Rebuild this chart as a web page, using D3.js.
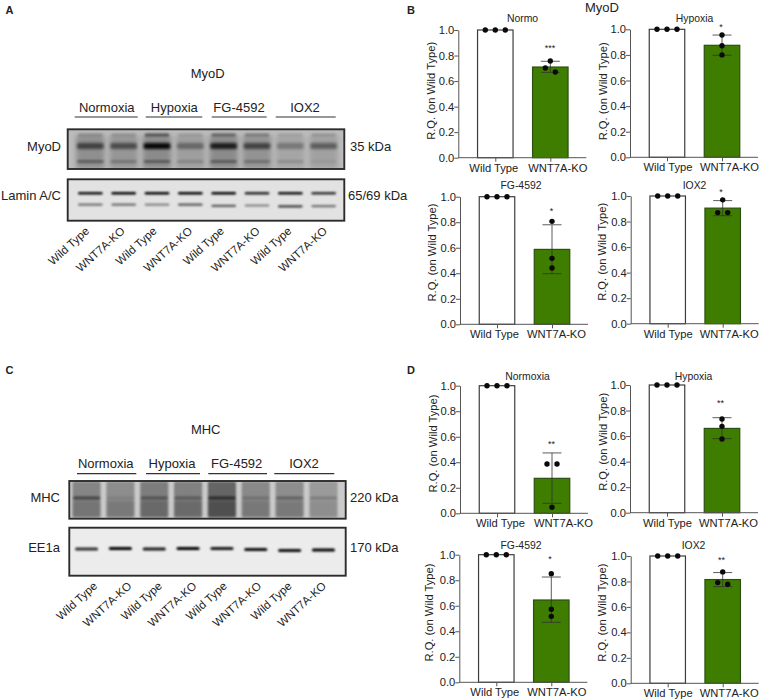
<!DOCTYPE html>
<html><head><meta charset="utf-8">
<script src="https://cdn.jsdelivr.net/npm/d3@7/dist/d3.min.js"></script>
<style>html,body{margin:0;background:#fff}svg{display:block}text{font-family:"Liberation Sans",Arial,sans-serif;fill:#222}</style>
</head><body><svg id="fig" width="760" height="700"></svg>
<script>
// ---------- data ----------
const categories = ["Wild Type", "WNT7A-KO"];
const yTicks = [0, 0.2, 0.4, 0.6, 0.8, 1.0];
const wtPoints = [1, 1, 1];
const panelTitles = ["Normo", "Hypoxia", "FG-4592", "IOX2", "Normoxia", "Hypoxia", "FG-4592", "IOX2"];
const koMeans = [0.71, 0.875, 0.587, 0.905, 0.274, 0.66, 0.645, 0.815];
const koErrLow = [0.668, 0.797, 0.397, 0.846, 0.078, 0.58, 0.47, 0.76];
const koErrHigh = [0.755, 0.955, 0.78, 0.964, 0.473, 0.744, 0.825, 0.87];
const koPoints = [
  [0.757, 0.702, 0.671], [0.955, 0.872, 0.80], [0.807, 0.517, 0.441], [0.97, 0.87, 0.87],
  [0.386, 0.386, 0.047], [0.734, 0.676, 0.577], [0.851, 0.572, 0.517], [0.875, 0.791, 0.778]
];
const significance = ["***", "*", "*", "*", "**", "**", "*", "**"];
const treatments = ["Normoxia", "Hypoxia", "FG-4592", "IOX2"];
const laneNames = ["Wild Type", "WNT7A-KO", "Wild Type", "WNT7A-KO", "Wild Type", "WNT7A-KO", "Wild Type", "WNT7A-KO"];
// blot band densities per lane (0 = none, 1 = black)
const myodLane = [0.24, 0.20, 0.26, 0.16, 0.26, 0.22, 0.12, 0.14];
const myodTop = [0.18, 0.16, 0.50, 0.12, 0.40, 0.28, 0.10, 0.16];
const myodMain = [0.55, 0.50, 0.95, 0.35, 0.80, 0.55, 0.28, 0.42];
const myodLow = [0.35, 0.22, 0.35, 0.16, 0.35, 0.24, 0.14, 0.06];
const laminTop = [0.95, 1.00, 1.00, 1.00, 1.00, 0.85, 0.95, 0.80];
const laminLow = [0.50, 0.52, 0.42, 0.62, 0.60, 0.45, 0.75, 0.50];
const laminDrift = [0, 0, 0, 0, 1.2, 0.8, 1.6, 1.4];
const mhcLane = [0.34, 0.30, 0.38, 0.36, 0.50, 0.32, 0.30, 0.24];
const mhcBand = [0.50, 0.10, 0.36, 0.32, 0.60, 0.20, 0.32, 0.20];
const mhcFoot = [0.12, 0.14, 0.16, 0.18, 0.22, 0.12, 0.14, 0.08];
const ee1aBand = [0.80, 1.00, 0.90, 1.00, 0.90, 0.95, 0.95, 1.00];
const ee1aDrift = [0, -0.5, 0, -0.5, -0.5, 0.5, 1.5, 1];

// ---------- helpers ----------
const svg = d3.select("#fig");
const defs = svg.append("defs");
[["blur1", 0.95], ["blur2", 1.6], ["blur3", 2.4]].forEach(([id, s]) =>
  defs.append("filter").attr("id", id).attr("x", "-20%").attr("y", "-60%").attr("width", "140%").attr("height", "220%")
    .append("feGaussianBlur").attr("stdDeviation", s));

function barPanel(i, ox, yTop, yBottom, labelX, labelShift, titleX, titleY, starX, starY, wtShift, koShift) {
  const g = svg.append("g");
  const x = d3.scalePoint().domain(categories).range([ox + 37, ox + 92]);
  const y = d3.scaleLinear().domain([0, 1]).range([yBottom, yTop]);
  const barW = 35.5;
  const bars = [
    { c: categories[0], v: 1, fill: "#fff", line: "#3c3c3c" },
    { c: categories[1], v: koMeans[i], fill: "#3e7d00", line: "#2c4f12" }
  ];
  g.selectAll("rect").data(bars).join("rect")
    .attr("x", d => x(d.c) - barW / 2).attr("width", barW)
    .attr("y", d => y(d.v)).attr("height", d => y(0) - y(d.v))
    .attr("fill", d => d.fill).attr("stroke", d => d.line).attr("stroke-width", 1.2);

  const ax = d3.axisLeft(y).tickValues(yTicks).tickFormat(d3.format(".1f")).tickSize(4).tickSizeOuter(0).tickPadding(0);
  const ya = g.append("g").attr("transform", `translate(${ox},0)`).call(ax);
  const xa = g.append("g").attr("transform", `translate(0,${yBottom})`)
    .call(d3.axisBottom(x).tickSize(4).tickSizeOuter(0).tickPadding(2));
  xa.select(".domain").attr("d", `M${ox},0H${ox + 128}`);
  [ya, xa].forEach(a => {
    a.selectAll("path,line").attr("stroke", "#555").attr("stroke-width", 1);
    a.selectAll("text").attr("font-size", 11.2).attr("fill", "#222");
  });
  xa.selectAll("text").attr("dx", (d, k) => (k ? koShift : wtShift));
  g.append("text").attr("transform", `translate(${labelX},${(yTop + yBottom) / 2 + labelShift}) rotate(-90)`)
    .attr("text-anchor", "middle").attr("font-size", 11.2).text("R.Q. (on Wild Type)");
  g.append("text").attr("x", titleX).attr("y", titleY).attr("text-anchor", "middle")
    .attr("font-size", 10.4).text(panelTitles[i]);
  g.append("text").attr("x", starX).attr("y", starY).attr("text-anchor", "middle")
    .attr("font-size", 9).text(significance[i]);

  // error bar
  const cx = x(categories[1]);
  const errPaths = [
    [[cx, y(koErrLow[i])], [cx, y(koErrHigh[i])]],
    [[cx - 9.5, y(koErrLow[i])], [cx + 9.5, y(koErrLow[i])]],
    [[cx - 9.5, y(koErrHigh[i])], [cx + 9.5, y(koErrHigh[i])]]
  ];
  g.selectAll("path.err").data(errPaths).join("path").attr("class", "err")
    .attr("d", d3.line()).attr("stroke", "#333").attr("stroke-width", 0.8).attr("fill", "none");

  // points: values too close to read apart are spread sideways
  const dots = [];
  [[categories[0], wtPoints], [categories[1], koPoints[i]]].forEach(([c, vals]) => {
    let group = [];
    const flush = () => {
      group.forEach((v, k) => dots.push({ c, v, dx: (k - (group.length - 1) / 2) * 10 }));
      group = [];
    };
    vals.slice().sort(d3.descending).forEach(v => {
      if (group.length && Math.abs(y(group[group.length - 1]) - y(v)) >= 6) flush();
      group.push(v);
    });
    flush();
  });
  g.selectAll("circle").data(dots).join("circle")
    .attr("cx", d => x(d.c) + d.dx).attr("cy", d => y(d.v)).attr("r", 2.7).attr("fill", "#0a0a0a");
}

function blot(x0, x1, y0, y1, lanesRange, bg, build) {
  const g = svg.append("g");
  const id = "clip" + Math.round(x0) + Math.round(y0);
  defs.append("clipPath").attr("id", id).append("rect").attr("x", x0).attr("y", y0).attr("width", x1 - x0).attr("height", y1 - y0);
  const inner = g.append("g").attr("clip-path", `url(#${id})`);
  inner.append("rect").attr("x", x0).attr("y", y0).attr("width", x1 - x0).attr("height", y1 - y0).attr("fill", bg);
  const lane = d3.scaleBand().domain(d3.range(8)).range(lanesRange).paddingInner(0.14);
  build(inner, lane);
  g.append("rect").attr("x", x0).attr("y", y0).attr("width", x1 - x0).attr("height", y1 - y0)
    .attr("fill", "none").attr("stroke", "#2c2c2c").attr("stroke-width", 1.9);
}
function bands(g, lane, vals, yPos, h, blur, shrink, drift) {
  g.append("g").attr("filter", `url(#${blur})`).selectAll("rect").data(vals).join("rect")
    .attr("x", (d, i) => lane(i) + shrink).attr("width", lane.bandwidth() - 2 * shrink)
    .attr("y", (d, i) => yPos - h / 2 + (drift ? drift[i] : 0)).attr("height", h)
    .attr("fill", "#000").attr("fill-opacity", d => d).attr("rx", Math.min(h / 2, 1.5));
}
function label(t, x, y, anchor, size, weight) {
  svg.append("text").attr("x", x).attr("y", y).attr("text-anchor", anchor || "start")
    .attr("font-size", size || 12).attr("font-weight", weight || null).text(t);
}
function header(centers, lines, ty, ly) {
  treatments.forEach((t, i) => {
    label(t, centers[i], ty, "middle", 13);
    svg.append("line").attr("x1", lines[i][0]).attr("x2", lines[i][1]).attr("y1", ly).attr("y2", ly)
      .attr("stroke", "#333").attr("stroke-width", 1.2);
  });
}
function laneLabels(xStart, xEnd, y) {
  const p = d3.scalePoint().domain(d3.range(8)).range([xStart, xEnd]);
  svg.selectAll(null).data(laneNames).join("text")
    .attr("transform", (d, i) => `translate(${p(i) + (i % 2 ? 2 : 0)},${y}) rotate(-42)`)
    .attr("text-anchor", "end").attr("font-size", 11.5).text(d => d);
}

// ---------- panel A ----------
label("A", 5.5, 14, "start", 11, "bold");
label("MyoD", 207.7, 77.5, "middle", 13);
header([106.7, 174.3, 239, 305], [[74.7, 137.7], [145.7, 202.3], [211.7, 266.7], [275.7, 335.7]], 111.5, 117);
blot(67.7, 344.3, 129.3, 169, [76, 338], "#bcbcbc", (g, lane) => {
  bands(g, lane, myodLane, 152, 34, "blur3", 0);
  bands(g, lane, myodTop, 135, 3, "blur1", 2);
  bands(g, lane, myodMain, 146, 6, "blur2", 1);
  bands(g, lane, myodLow, 161.5, 3, "blur1", 1);
});
blot(67.7, 344.3, 179.3, 220.7, [76, 338], "#e2e2e2", (g, lane) => {
  bands(g, lane, laminTop, 193.3, 2.6, "blur1", 2);
  bands(g, lane, laminLow, 204.7, 2.2, "blur1", 2, laminDrift);
});
label("MyoD", 61, 150.5, "end", 13);
label("Lamin A/C", 61, 199.5, "end", 13);
label("35 kDa", 350, 150.5, "start", 13);
label("65/69 kDa", 348, 199.5, "start", 13);
laneLabels(90, 326, 232);

// ---------- panel C ----------
label("C", 5.5, 374, "start", 11, "bold");
label("MHC", 205.7, 433.5, "middle", 13);
header([105.7, 172, 236.7, 304], [[77, 136.3], [146, 200], [208.3, 267], [274.3, 334.3]], 468, 473.7);
blot(69.3, 345.7, 481, 518.7, [72, 338], "#cacaca", (g, lane) => {
  bands(g, lane, mhcLane, 499.5, 36, "blur1", 0.5);
  bands(g, lane, mhcBand, 498, 3, "blur1", 1);
  bands(g, lane, mhcFoot, 509, 16, "blur2", 1);
});
blot(69.3, 345.7, 527.7, 575.7, [72, 338], "#ececec", (g, lane) => {
  bands(g, lane, ee1aBand, 549, 3, "blur1", 3, ee1aDrift);
});
label("MHC", 60, 501.5, "end", 13);
label("EE1a", 60, 551.5, "end", 13);
label("220 kDa", 350, 501.5, "start", 13);
label("170 kDa", 350, 551.5, "start", 13);
laneLabels(98, 325, 587);

// ---------- panels B and D ----------
label("B", 407, 14, "start", 11, "bold");
label("MyoD", 602, 11.5, "middle", 13);
label("D", 407, 374, "start", 11, "bold");
barPanel(0, 458.3, 30, 157.7, 434.5, -3, 522.5, 21.5, 550, 51, -2, 7);
barPanel(1, 630, 29.3, 157.3, 607, -2, 694.5, 21.5, 721, 29.5, 0.5, 7);
barPanel(2, 460, 196.7, 324.3, 436, -8, 521, 188.5, 551.5, 214, -3, 4);
barPanel(3, 630.7, 196, 323.7, 605.5, -8, 694.5, 188.5, 721, 194.5, 0, 6);
barPanel(4, 460, 385.7, 513.3, 437, -6, 527.5, 380, 551.5, 447, 3, 11);
barPanel(5, 630, 385, 512.7, 607, -7, 693.5, 380, 720.5, 406, 0, 6);
barPanel(6, 459.3, 554.7, 682.3, 433, -6, 521, 548.5, 550, 562, -2, 5);
barPanel(7, 630.7, 556, 683.3, 605.5, -7, 693.5, 548.5, 721.5, 563, 0, 6);
</script></body></html>
